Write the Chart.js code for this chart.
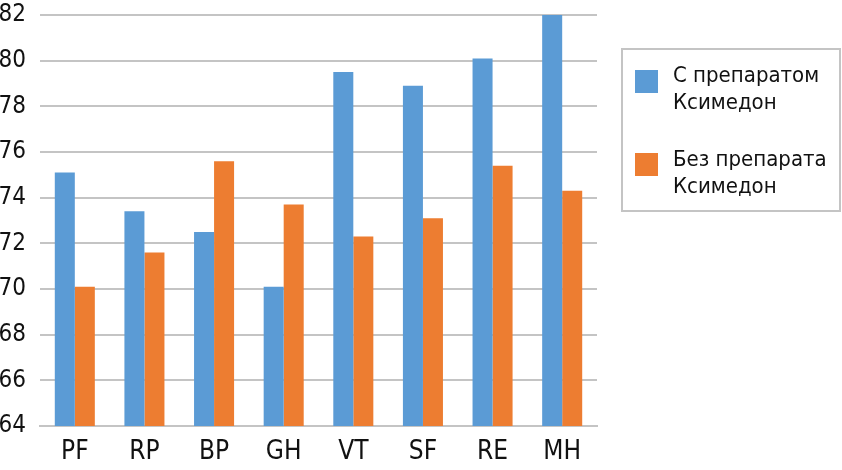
<!DOCTYPE html>
<html>
<head>
<meta charset="utf-8">
<script src="https://cdn.jsdelivr.net/npm/chart.js@4/dist/chart.umd.min.js"></script>
<style>
html,body{margin:0;padding:0;background:#fff;}
#wrap{width:842px;height:470px;position:relative;}
</style>
</head>
<body>
<div id="wrap"><canvas id="c" width="842" height="470"></canvas></div>
<script>
const categories = ["PF","RP","BP","GH","VT","SF","RE","MH"];
const withDrug = [75.1,73.4,72.5,70.1,79.5,78.9,80.1,82.0];
const withoutDrug = [70.1,71.6,75.6,73.7,72.3,73.1,75.4,74.3];
const seriesNames = [["С препаратом","Ксимедон"],["Без препарата","Ксимедон"]];
const yMin = 64, yMax = 82, yStep = 2;

const FONT = "'DejaVu Sans Condensed','Liberation Sans Narrow',sans-serif";
const colors = ["#5B9BD5","#ED7D31"];

const boxLegend = {
  id: 'boxLegend',
  afterDraw(chart) {
    const ctx = chart.ctx;
    ctx.save();
    ctx.strokeStyle = '#c4c4c4';
    ctx.lineWidth = 2;
    ctx.strokeRect(622, 49, 218, 162);
    ctx.font = '22px ' + FONT;
    ctx.textBaseline = 'alphabetic';
    ctx.textAlign = 'left';
    const tops = [70, 153];
    const bases = [82, 166];
    chart.data.datasets.forEach((ds, i) => {
      ctx.fillStyle = ds.backgroundColor;
      ctx.fillRect(635, tops[i], 23, 23);
      ctx.fillStyle = '#111';
      seriesNames[i].forEach((line, j) => {
        ctx.fillText(line, 673, bases[i] + j * 27);
      });
    });
    ctx.restore();
  }
};

new Chart(document.getElementById('c'), {
  type: 'bar',
  data: {
    labels: categories,
    datasets: [
      { label: seriesNames[0].join(' '), data: withDrug, backgroundColor: colors[0] },
      { label: seriesNames[1].join(' '), data: withoutDrug, backgroundColor: colors[1] }
    ]
  },
  options: {
    responsive: false,
    animation: false,
    devicePixelRatio: 1,
    layout: { padding: { left: 0, right: 245, top: 15, bottom: 0 } },
    plugins: { legend: { display: false }, tooltip: { enabled: false } },
    datasets: { bar: { categoryPercentage: 0.575, barPercentage: 1.0 } },
    scales: {
      x: {
        grid: { display: false, drawTicks: false },
        border: { display: true, color: '#c4c4c4', width: 2 },
        ticks: { color: '#111', font: { family: FONT, size: 26 }, padding: 11 },
        afterFit(s) { s.height = 44; s.paddingLeft = 0; s.paddingRight = 0; }
      },
      y: {
        min: yMin, max: yMax,
        grid: { color: '#c4c4c4', lineWidth: 2, drawTicks: false },
        border: { display: false },
        ticks: { stepSize: yStep, color: '#111', font: { family: FONT, size: 24 }, padding: 14 },
        afterFit(s) { s.width = 40; s.paddingTop = 0; s.paddingBottom = 0; }
      }
    }
  },
  plugins: [boxLegend]
});
</script>
</body>
</html>
